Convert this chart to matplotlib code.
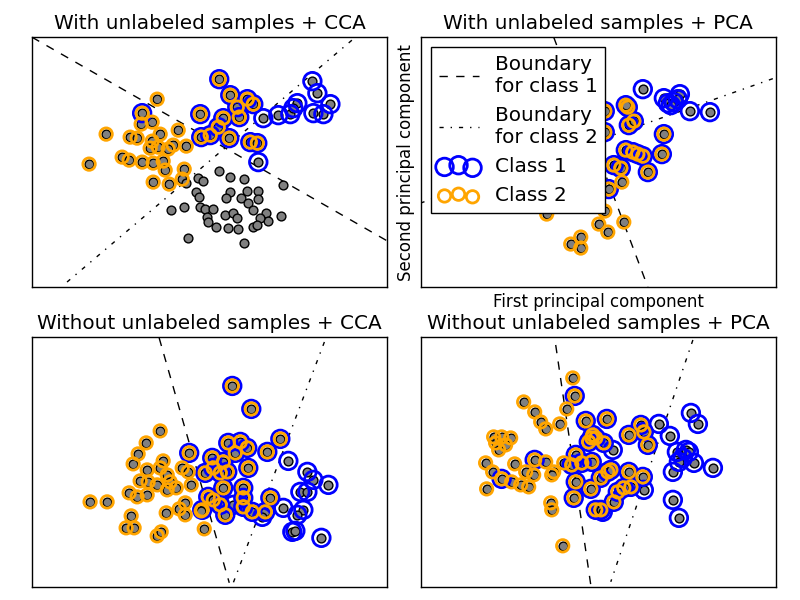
import numpy as np
import matplotlib
matplotlib.use("Agg")
import matplotlib.pyplot as plt

plt.rcParams['font.family'] = 'DejaVu Sans'
plt.rcParams['lines.scale_dashes'] = False
plt.rcParams['lines.dashed_pattern'] = [6, 6]
plt.rcParams['lines.dashdot_pattern'] = [3, 5, 1, 5]
plt.rcParams['axes.linewidth'] = 1.0

# ---- data (panel units: x 0..355, y 0..250) ----

# With unlabeled samples + CCA
cca_u_both = np.array([[110, 174], [168, 173], [169, 150], [187, 208], [198, 192], [215, 188],
                       [205, 180], [221, 183], [207, 170], [191, 169], [178, 152], [186, 160],
                       [197, 149], [218, 145], [225, 144]])
cca_u_c1 = np.array([[231, 169], [246, 172], [258, 173], [265, 184], [261, 179], [280, 206],
                     [285, 194], [298, 183], [281, 174], [291, 173], [226, 125]])
cca_u_c2 = np.array([[125, 188], [74, 153], [57, 123], [120, 165], [109, 163], [98, 150],
                     [105, 149], [128, 153], [146, 157], [120, 146], [141, 142], [154, 141],
                     [118, 139], [126, 140], [136, 138], [90, 130], [97, 127], [110, 125],
                     [121, 124], [131, 126], [133, 117], [152, 118], [150, 108], [121, 105],
                     [137, 103]])
cca_u_none = np.array([[166, 109], [171, 106], [154, 104], [164, 95], [167, 90], [139, 77],
                       [152, 80], [168, 80], [173, 78], [175, 70], [156, 49], [187, 116],
                       [198, 110], [212, 108], [251, 102], [198, 95], [194, 89], [215, 96],
                       [226, 96], [209, 89], [226, 88], [216, 84], [221, 77], [181, 78],
                       [193, 72], [201, 74], [205, 69], [234, 74], [249, 71], [236, 66],
                       [228, 69], [176, 65], [184, 60], [196, 59], [206, 58], [221, 60],
                       [225, 62], [212, 44]])
cca_u_bound1 = np.array([[0, 250], [355, 46]])
cca_u_bound2 = np.array([[35, 5], [323, 250]])

# With unlabeled samples + PCA
pca_u_both = np.array([[207, 180], [205, 182], [208, 162], [213, 166], [243, 153], [184, 176],
                       [184, 155], [205, 137], [212, 135], [217, 133], [222, 131], [241, 133],
                       [193, 122], [200, 119], [227, 115], [188, 98]])
pca_u_c1 = np.array([[222, 198], [269, 176], [289, 175], [243, 189], [247, 184], [253, 185],
                     [259, 193], [257, 188], [250, 182]])
pca_u_c2 = np.array([[126, 73], [150, 43], [160, 50], [160, 39], [178, 63], [201, 105],
                     [184, 76], [187, 55], [203, 65]])
pca_u_none = np.empty((0, 2))
pca_u_bound1 = np.array([[133, 250], [227, 0]])
pca_u_bound2 = np.array([[0, 84], [356, 210]])

# Without unlabeled samples + CCA
cca_both = np.array([[157, 134], [200, 201], [219, 178], [248, 148], [235, 135], [196, 144],
                     [208, 145], [215, 139], [203, 134], [180, 129], [191, 125], [181, 119],
                     [195, 115], [216, 119], [173, 114], [188, 114], [191, 99], [211, 99],
                     [211, 89], [211, 80], [176, 90], [181, 87], [188, 82], [193, 72],
                     [220, 75], [233, 75], [238, 89], [170, 77]])
cca_c1 = np.array([[256, 126], [275, 115], [281, 107], [296, 102], [268, 95], [275, 95],
                   [251, 79], [271, 77], [265, 72], [260, 55], [263, 56], [289, 49],
                   [230, 70], [201, 82]])
cca_c2 = np.array([[128, 156], [114, 144], [106, 133], [101, 123], [131, 126], [115, 117],
                   [128, 119], [108, 106], [116, 105], [135, 112], [125, 102], [138, 105],
                   [144, 99], [135, 97], [150, 119], [156, 115], [159, 102], [97, 94],
                   [105, 90], [115, 92], [58, 85], [75, 85], [153, 84], [147, 78],
                   [153, 72], [134, 74], [169, 76], [99, 71], [94, 59], [102, 59],
                   [125, 51], [129, 55], [172, 58]])
cca_none = np.empty((0, 2))
cca_bound1 = np.array([[127, 249], [197, 4]])
cca_bound2 = np.array([[292, 245], [201, 4]])

# Without unlabeled samples + PCA
pca_both = np.array([[154, 191], [165, 166], [81, 108], [114, 127], [155, 132], [151, 122],
                     [161, 124], [171, 125], [155, 105], [153, 89], [170, 98], [168, 145],
                     [171, 149], [175, 77], [186, 168], [208, 152], [220, 162], [223, 155],
                     [227, 142], [183, 144], [175, 149], [172, 152], [187, 115], [190, 117],
                     [180, 109], [208, 115], [222, 110], [210, 100], [203, 99], [197, 95],
                     [193, 85], [180, 77]])
pca_c1 = np.array([[238, 163], [249, 151], [270, 174], [277, 163], [192, 137], [256, 135],
                   [265, 137], [268, 135], [262, 129], [273, 124], [258, 125], [252, 115],
                   [292, 119], [223, 97], [252, 87], [258, 69], [182, 75]])
pca_c2 = np.array([[152, 209], [103, 185], [114, 175], [120, 165], [125, 158], [139, 163],
                   [146, 178], [73, 150], [81, 150], [90, 149], [75, 144], [85, 142],
                   [78, 137], [65, 124], [72, 115], [94, 123], [91, 105], [100, 102],
                   [108, 100], [105, 115], [113, 112], [125, 125], [133, 115], [131, 112],
                   [143, 124], [66, 98], [130, 84], [131, 77], [142, 41]])
pca_none = np.empty((0, 2))
pca_bound1 = np.array([[135, 242], [170, 2]])
pca_bound2 = np.array([[272, 247], [190, 5]])

titles = ["With unlabeled samples + CCA", "With unlabeled samples + PCA",
          "Without unlabeled samples + CCA", "Without unlabeled samples + PCA"]

panels = [
    (cca_u_both, cca_u_c1, cca_u_c2, cca_u_none, cca_u_bound1, cca_u_bound2),
    (pca_u_both, pca_u_c1, pca_u_c2, pca_u_none, pca_u_bound1, pca_u_bound2),
    (cca_both, cca_c1, cca_c2, cca_none, cca_bound1, cca_bound2),
    (pca_both, pca_c1, pca_c2, pca_none, pca_bound1, pca_bound2),
]

fig, axes = plt.subplots(2, 2, figsize=(8, 6), dpi=100)
plt.subplots_adjust(left=0.04, right=0.97, bottom=0.022, top=0.938, wspace=0.093, hspace=0.2)

for ax, title, (both, c1, c2, none, b1, b2) in zip(axes.flat, titles, panels):
    allpts = np.vstack([both, c1, c2, none])
    cls1 = np.vstack([both, c1])
    cls2 = np.vstack([both, c2])
    ax.scatter(allpts[:, 0], allpts[:, 1], s=40, c='gray', edgecolors='k', linewidths=1, zorder=2)
    ax.plot(b1[:, 0], b1[:, 1], 'k--', lw=1, label='Boundary\nfor class 1', zorder=1)
    ax.plot(b2[:, 0], b2[:, 1], 'k-.', lw=1, label='Boundary\nfor class 2', zorder=1)
    ax.scatter(cls1[:, 0], cls1[:, 1], s=160, edgecolors='b', facecolors='none',
               linewidths=2, label='Class 1', zorder=3)
    ax.scatter(cls2[:, 0], cls2[:, 1], s=80, edgecolors='orange', facecolors='none',
               linewidths=2, label='Class 2', zorder=4)
    ax.set_xlim(0, 355)
    ax.set_ylim(0, 250)
    ax.set_xticks([])
    ax.set_yticks([])
    ax.set_title(title, fontsize=14.4)

ax = axes[0, 1]
ax.set_xlabel('First principal component', fontsize=12)
ax.set_ylabel('Second principal component', fontsize=12)
leg = ax.legend(loc='upper left', fontsize=14.4, scatterpoints=3, fancybox=False,
                edgecolor='k', framealpha=1, handlelength=2.0)
leg.get_frame().set_linewidth(1.0)
leg.set_zorder(10)

plt.savefig('out.png', dpi=100)
